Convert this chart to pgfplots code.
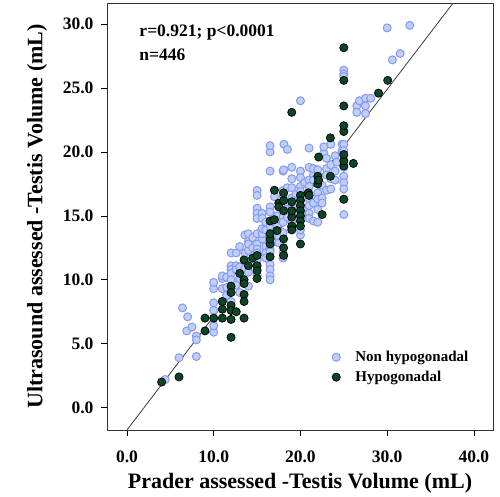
\documentclass[border=0pt]{standalone}
\usepackage{fontspec}
\setmainfont{Liberation Serif}
\usepackage{pgfplots}
\pgfplotsset{compat=1.18}

\definecolor{nonhypo}{RGB}{192,206,250}
\definecolor{nonhypoedge}{RGB}{132,154,240}
\definecolor{hypo}{RGB}{12,70,38}
\definecolor{fitline}{RGB}{60,60,60}

\begin{document}
\begin{tikzpicture}
\begin{axis}[
    name=ax,
    scale only axis,
    width=386pt, height=427pt,
    xmin=-2.3, xmax=42.2,
    ymin=-1.75, ymax=31.65,
    xtick={0,10,20,30,40},
    ytick={0,5,10,15,20,25,30},
    tick align=outside,
    xtick pos=bottom, ytick pos=left,
    major tick length=6pt,
    tick style={black, line width=0.6pt},
    axis line style={black!80, line width=0.8pt},
    /pgf/number format/.cd, fixed, fixed zerofill, precision=1, assume math mode=true,
    /pgfplots/.cd,
    ticklabel style={font=\fontsize{17.5}{17.5}\selectfont\bfseries},
    xticklabel style={yshift=-11pt},
    yticklabel style={xshift=-4pt},
    xlabel={Prader assessed -Testis Volume (mL)},
    ylabel={Ultrasound assessed -Testis Volume (mL)},
    label style={font=\fontsize{22}{24}\selectfont\bfseries},
    xlabel style={yshift=-4pt},
    ylabel style={yshift=9pt},
    legend style={draw=none, fill=none, at={(0.575,0.1)}, anchor=south west,
        font=\fontsize{15}{16}\selectfont\bfseries, row sep=4pt},
    legend cell align=left,
]
\addplot[only marks, mark=*, mark size=4pt,
    mark options={fill=nonhypo, draw=nonhypoedge, line width=1pt}] coordinates {
(4.4,2.2) (6,3.9) (6.4,7.8) (7,7.1) (6.9,6.0) (7.5,6.3)
(8,5.6) (8,5.3) (8,4.0)
(10,5.9) (10,6.4) (10,7.6) (10,8.2) (10,9.3) (10,9.8)
(11,10.1) (11,9.3) (11,8.3) (11,10.3)
(11.5,8.8) (11.5,9.4) (11.5,10.2)
(12,12.1) (12,11.1) (12,10.8) (12,10.5) (12,10.0) (12,8.3)
(12.6,12.1) (12.6,11.1) (12.6,10.8) (12.6,9.6)
(13,11.0) (13,9.0) (13,10.1) (13,12.6)
(13.6,12.1) (13.6,13.5) (13.6,10.9)
(14,9.5) (14,10.6) (14,11.4) (14,12.3) (14,13.0) (14,13.6) (14,12.8)
(14.5,12.5) (14.5,13.3)
(15,17.0) (15,16.6) (15,15.6) (15,15.2) (15,14.8) (15,13.6) (15,12.8) (15,12.4) (15,12.1) (15,11.5) (15,10.8) (15,10.4)
(15.6,13.2) (15.6,13.6) (15.6,14.0) (15.6,15.2) (15.6,14.8)
(16,12.6) (16,12.1) (16,11.7) (16,13.9) (16,14.5)
(16.5,20.0) (16.5,20.5) (16.5,18.5) (16.5,15.7) (16.5,15.3) (16.5,14.2) (16.5,13.0) (16.5,12.4) (16.5,12.2) (16.5,11.2) (16.5,10.8) (16.5,10.3) (16.5,10.0)
(17,14.5) (17,13.6) (17,13.0) (17,16.5)
(17.3,15.0) (17.3,14.2) (17.5,13.3) (17.5,12.9)
(18,18.5) (18,17.0) (18,16.6) (18,15.6) (18,14.9) (18,14.5) (18,13.7) (18,12.1) (18,11.7)
(18.5,16.0) (18.5,15.5) (18.5,14.9) (18.5,17.2)
(18.1,20.6) (18.5,20.2) (18.06,18.6)
(19,15.6) (19,15.2) (19,16.4) (19,17.2) (19,17.9) (19,18.8) (19,14.5)
(19.5,16.7) (19.5,15.9)
(20,24.0) (20,18.5) (20,18.0) (20,17.3) (20,16.9) (20,13.5) (20,13.9) (20,14.9) (20,15.6)
(20.5,15.1) (20.5,15.6) (20.5,16.6) (20.5,17.6)
(21,17.8) (21,17.3) (21,16.8) (21,16.3) (21,15.8) (21,15.2) (21,14.8) (21,20.3) (21,18.8)
(21.5,18.2) (21.5,18.7) (21.5,17.8) (21.5,14.6) (21.5,16.0)
(22,18.6) (22,16.8) (22,16.3) (22,15.5) (22,14.5)
(22.5,16.4) (22.5,16.0) (22.5,17.4) (22.7,19.9) (22.7,20.4)
(23,19.5) (23,18.7) (23,17.0) (23,18.2)
(23.5,20.6) (23.5,17.9) (23.5,17.1) (23.5,19.0)
(24,19.7) (24,18.5) (24.2,19.2) (24,17.8)
(24.8,20.6) (24.8,20.1)
(25,26.4) (25,26.1) (25,25.9) (25,20.6) (25,20.1) (25,19.7) (25,19.3) (25,18.8) (25,18.1) (25,17.6) (25,17.1) (25,16.3) (25,15.1)
(26.5,23.6) (26.5,23.1) (26.8,24.0)
(27.5,24.2) (27.5,23.6) (27.5,23.0) (28.1,24.2)
(30,29.7) (30.6,27.2) (31.5,27.7) (32.6,29.9)
};
\addlegendentry{\hspace{13pt}Non hypogonadal}

\addplot[only marks, mark=*, mark size=4.1pt,
    mark options={fill=hypo, draw=black, line width=0.7pt}] coordinates {
(4,2.0) (6,2.4)
(9,7.0) (9,6.0) (10,7.0)
(11,8.3) (11,7.0) (11,7.7)
(12,9.5) (12,9.0) (12,8.0) (12,7.6) (12,6.9) (12,5.5)
(12.6,7.5) (13,10.5)
(13.5,11.55) (13.5,10.0) (13.5,9.7) (13.5,8.85) (13.5,8.3) (13.5,7.0)
(14,11.1) (14.5,11.7)
(15,11.9) (15,11.1) (15,10.1) (15,10.7)
(16.5,11.8) (16.5,12.8) (16.5,13.2) (16.5,13.6) (16.5,14.6)
(17.3,13.85)
(18.06,13.2) (18.06,12.5) (18.06,11.9)
(19,14.1) (19,14.9)
(20,12.8)
(17,14.7) (17,17.0) (17.5,16.0) (17.5,15.7) (18.06,16.2) (18.06,15.4) (18.06,16.8)
(19,16.1) (19,15.4) (19,14.2) (19,13.9)
(20,16.6) (20,16.2) (20,15.8) (20,15.4) (20,15.0) (20,14.6) (20,14.2)
(20.9,16.8) (21,16.6)
(22,17.5) (22,18.1) (22.1,17.8) (22.1,19.6) (22.5,15.1)
(23.45,18.1) (23.45,21.1)
(25,16.3) (25,18.9) (25,19.3) (25,19.8) (25,21.6) (25,22.05) (25,23.6) (25,25.6) (25,28.15)
(26.1,19.1)
(19,23.1)
(29,24.6) (30.06,25.6)
};
\addlegendentry{\hspace{13pt}Hypogonadal}

\addplot[fitline, line width=0.8pt, forget plot] coordinates {(0,-1.75) (37.6,31.65)};

\node[anchor=west, font=\fontsize{17.5}{17.5}\selectfont\bfseries] at (rel axis cs:0.075,0.93) {r=0.921; p<0.0001};
\node[anchor=west, font=\fontsize{17.5}{17.5}\selectfont\bfseries] at (rel axis cs:0.075,0.878) {n=446};
\end{axis}
\pgfresetboundingbox
\path ([xshift=-107pt,yshift=-67pt]ax.south west) rectangle ([xshift=7pt,yshift=3pt]ax.north east);
\end{tikzpicture}
\end{document}
